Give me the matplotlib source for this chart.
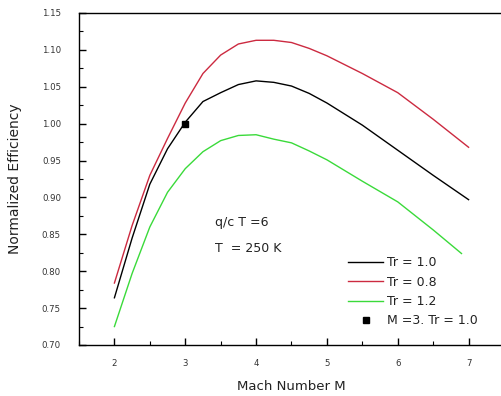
import matplotlib
matplotlib.use("Agg")
import matplotlib.pyplot as plt
from matplotlib.ticker import MultipleLocator

mach = [2.0, 2.25, 2.5, 2.75, 3.0, 3.25, 3.5, 3.75, 4.0, 4.25, 4.5, 4.75, 5.0, 5.5, 6.0, 6.5, 7.0]
eff_tr10 = [0.764, 0.845, 0.918, 0.966, 1.002, 1.030, 1.042, 1.053, 1.058, 1.056, 1.051, 1.041, 1.028, 0.998, 0.964, 0.930, 0.897]
eff_tr08 = [0.784, 0.862, 0.930, 0.980, 1.028, 1.068, 1.093, 1.108, 1.113, 1.113, 1.110, 1.102, 1.092, 1.068, 1.042, 1.006, 0.968]
mach_g = [2.0, 2.25, 2.5, 2.75, 3.0, 3.25, 3.5, 3.75, 4.0, 4.25, 4.5, 4.75, 5.0, 5.5, 6.0, 6.5, 6.9]
eff_tr12 = [0.725, 0.797, 0.860, 0.907, 0.939, 0.962, 0.977, 0.984, 0.985, 0.979, 0.974, 0.963, 0.951, 0.922, 0.894, 0.856, 0.824]
point_m = [3.0]
point_eff = [1.0]

labels = ["Tr = 1.0", "Tr = 0.8", "Tr = 1.2", "M =3. Tr = 1.0"]

plt.rcParams['font.family'] = ['DejaVu Sans']

fig = plt.figure(figsize=(5.02, 3.96), dpi=100)
ax = fig.add_axes([79/502, 1-345/396, 425/502, (345-13)/396])

ax.plot(mach, eff_tr10, color='black', lw=1.0, label=labels[0])
ax.plot(mach, eff_tr08, color='#cc2a40', lw=1.0, label=labels[1])
ax.plot(mach_g, eff_tr12, color='#3ada3a', lw=1.0, label=labels[2])
ax.plot(point_m, point_eff, 's', color='black', ms=5, lw=0, label=labels[3])

ax.set_xlim(1.5, 7.5)
ax.set_ylim(0.70, 1.15)
ax.xaxis.set_major_locator(MultipleLocator(1))
ax.xaxis.set_minor_locator(MultipleLocator(0.5))
ax.yaxis.set_major_locator(MultipleLocator(0.05))
ax.yaxis.set_minor_locator(MultipleLocator(0.025))
ax.set_xticks([2, 3, 4, 5, 6, 7])
ax.tick_params(which='major', direction='in', length=5, width=1.0, labelsize=6.2, labelcolor='#333333')
ax.tick_params(axis='y', which='major', pad=13)
ax.tick_params(axis='x', which='major', pad=10)
ax.tick_params(which='minor', direction='in', length=3, width=0.8)
ax.spines['right'].set_visible(False)
for s in ['left', 'bottom', 'top']:
    ax.spines[s].set_linewidth(1.0)

ax.set_xlabel("Mach Number M", fontsize=9.5, color='#222222', labelpad=9)
ax.set_ylabel("Normalized Efficiency", fontsize=10, color='#222222', labelpad=14)

ax.text(3.42, 0.8667, "q/c T =6", fontsize=9, color='#222222', va='center')
ax.text(3.42, 0.8314, "T  = 250 K", fontsize=9, color='#222222', va='center')

leg = ax.legend(loc='upper left', bbox_to_anchor=(348/502, 1-256/396), bbox_transform=fig.transFigure,
                frameon=False, fontsize=9, handlelength=2.8, labelspacing=0.52, handletextpad=0.32,
                borderpad=0, borderaxespad=0)
for t in leg.get_texts():
    t.set_color('#222222')

fig.savefig("out.png", dpi=100)
